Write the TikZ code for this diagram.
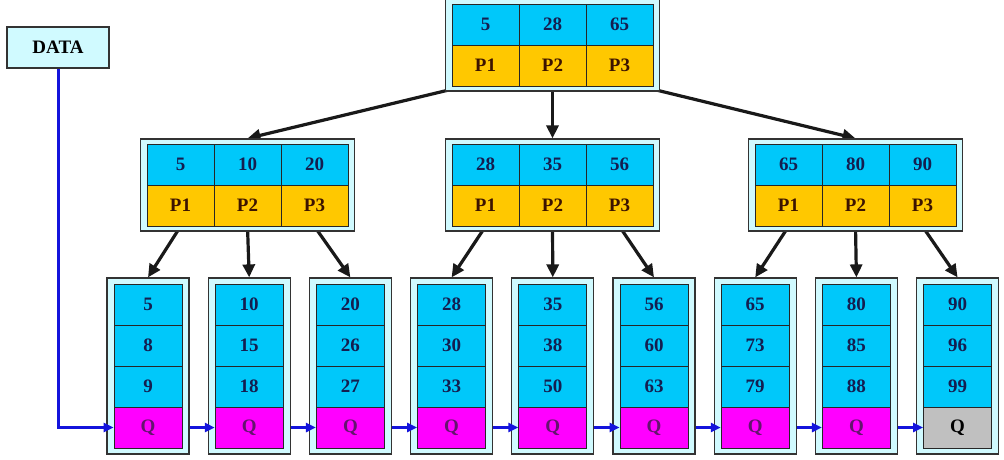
\documentclass[tikz,border=0pt]{standalone}
\usepackage{fontspec}
\setmainfont{Liberation Serif}
\usepackage{xcolor}
\usetikzlibrary{positioning,arrows.meta,calc,backgrounds}

\definecolor{keyblue}{RGB}{0,200,250}
\definecolor{ptryellow}{RGB}{255,200,0}
\definecolor{qmagenta}{RGB}{255,0,255}
\definecolor{qgray}{RGB}{192,192,192}
\definecolor{framecyan}{RGB}{208,250,255}
\definecolor{numnavy}{RGB}{20,30,80}
\definecolor{pbrown}{RGB}{60,20,0}
\definecolor{qpurple}{RGB}{100,20,110}
\definecolor{linkblue}{RGB}{20,20,220}

\tikzset{
	framebox/.style={draw=black!80, fill=framecyan, line width=1.2pt, inner sep=0pt},
	cell/.style={draw=black!85, line width=0.9pt, minimum width=67pt, minimum height=41pt, inner sep=0pt, font=\fontsize{19}{21}\selectfont\bfseries},
	keycell/.style={cell, fill=keyblue, text=numnavy},
	ptrcell/.style={cell, fill=ptryellow, text=pbrown},
	leafcell/.style={keycell, minimum width=68pt},
	qcell/.style={cell, minimum width=68pt, fill=qmagenta, text=qpurple},
	lastq/.style={cell, minimum width=68pt, fill=qgray, text=black},
	treearrow/.style={-{Triangle[length=13pt,width=12pt]}, line width=3.2pt, black!90},
	linkarrow/.style={-{Triangle[length=10pt,width=9pt]}, line width=3pt, linkblue},
}

% index node: frame with three keys over three pointers
\newcommand{\indexnode}[6]{%
	\node[framebox, minimum width=214pt, minimum height=92pt] (#1) at (#2,#3) {};
	\node[keycell] (#1-k1) at ($(#1)+(-67,-20.5)$) {#4};
	\node[keycell] (#1-k2) at ($(#1)+(0,-20.5)$) {#5};
	\node[keycell] (#1-k3) at ($(#1)+(67,-20.5)$) {#6};
	\node[ptrcell] (#1-p1) at ($(#1)+(-67,20.5)$) {P1};
	\node[ptrcell] (#1-p2) at ($(#1)+(0,20.5)$) {P2};
	\node[ptrcell] (#1-p3) at ($(#1)+(67,20.5)$) {P3};
}

\begin{document}
\begin{tikzpicture}[x=1pt,y=-1pt]
	\useasboundingbox (0,0) rectangle (1004,459);

	% root and second level
	\indexnode{r}{552.5}{45}{5}{28}{65}
	\indexnode{m1}{247.5}{185}{5}{10}{20}
	\indexnode{m2}{552.5}{185}{28}{35}{56}
	\indexnode{m3}{855.5}{185}{65}{80}{90}

	% leaves
	\foreach \a/\b/\c/\qs [count=\i] in {5/8/9/qcell, 10/15/18/qcell, 20/26/27/qcell,
		28/30/33/qcell, 35/38/50/qcell, 56/60/63/qcell, 65/73/79/qcell, 80/85/88/qcell, 90/96/99/lastq}
	{
		\pgfmathsetmacro\lx{148+101.2*(\i-1)}
		\node[framebox, minimum width=82pt, minimum height=176pt] (l\i) at (\lx,366) {};
		\node[leafcell] (l\i-1) at (\lx,304.5) {\a};
		\node[leafcell] (l\i-2) at (\lx,345.5) {\b};
		\node[leafcell] (l\i-3) at (\lx,386.5) {\c};
		\node[\qs] (l\i-q) at (\lx,427.5) {Q};
	}

	% data entry
	\node[framebox, minimum width=102pt, minimum height=41pt, font=\fontsize{19}{21}\selectfont\bfseries] (data) at (58,47.5) {DATA};

	% tree pointers
	\begin{scope}[on background layer]
		\draw[treearrow] ([xshift=-22pt]r-p1.south) -- (m1.north);
		\draw[treearrow] (r-p2.south) -- (m2.north);
		\draw[treearrow] ([xshift=22pt]r-p3.south) -- (m3.north);
		\foreach \m in {1,2,3}
		\foreach \p in {1,2,3}
		{
			\pgfmathtruncatemacro\n{3*(\m-1)+\p}
			\draw[treearrow] (m\m-p\p.south) -- (l\n.north);
		}
	\end{scope}

	% leaf chain
	\draw[linkarrow] (data.south) |- (l1-q.west);
	\foreach \i [evaluate=\i as \j using int(\i+1)] in {1,...,8}
		\draw[linkarrow] (l\i.east |- l\i-q) -- (l\j-q.west);
\end{tikzpicture}
\end{document}
